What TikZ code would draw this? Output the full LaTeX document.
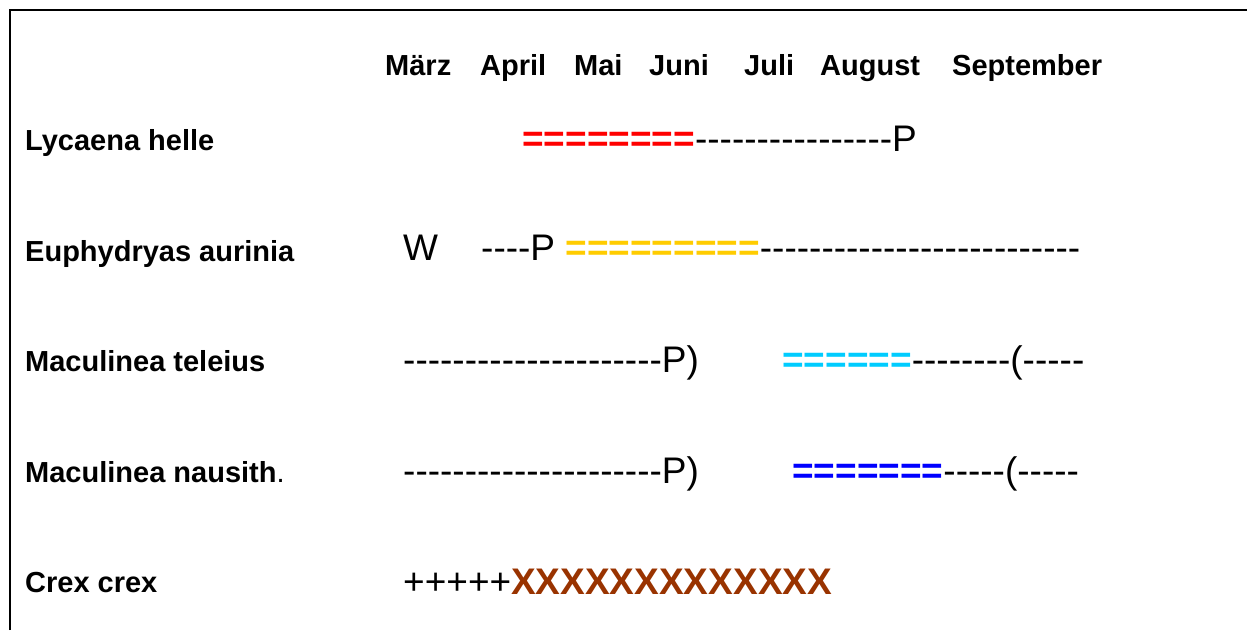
\documentclass[tikz,border=0pt]{standalone}
\usepackage{fontspec}
\newfontfamily\arialf{Liberation Sans}
\definecolor{cred}{HTML}{FF0000}
\definecolor{cyellow}{HTML}{FFCC00}
\definecolor{ccyan}{HTML}{00CCFF}
\definecolor{cblue}{HTML}{0000FF}
\definecolor{cbrown}{HTML}{993300}
\tikzset{
  lbl/.style={anchor=base west,inner sep=0pt,font=\arialf\bfseries\fontsize{29}{32}\selectfont},
  mon/.style={anchor=base west,inner sep=0pt,font=\arialf\bfseries\fontsize{29}{32}\selectfont},
  seq/.style={anchor=base west,inner sep=0pt,font=\arialf\fontsize{37}{40}\selectfont},
  frameline/.style={line width=2pt}
}
\newcommand\eqs[2]{{\bfseries\color{#1}#2}}
\begin{document}
\begin{tikzpicture}[x=1pt,y=-1pt]
\useasboundingbox (0,0) rectangle (1247,630);
\coordinate (fb) at (10,630);
\coordinate (fc) at (10,10);
\coordinate (fr) at (1247,10);
\draw[frameline] (fb) -- (fc) -- (fr);
% months
\node[mon] (m1) at (385,75) {März};
\node[mon] (m2) at (480,75) {April};
\node[mon] (m3) at (574,75) {Mai};
\node[mon] (m4) at (649,75) {Juni};
\node[mon] (m5) at (744,75) {Juli};
\node[mon] (m6) at (820,75) {August};
\node[mon] (m7) at (952,75) {September};
% labels
\node[lbl] (l1) at (25,150) {Lycaena helle};
\node[lbl] (l2) at (25,261) {Euphydryas aurinia};
\node[lbl] (l3) at (25,371) {Maculinea teleius};
\node[lbl] (l4) at (25,482) {Maculinea nausith{\mdseries .}};
\node[lbl] (l5) at (25,592) {Crex crex};
% sequences
\node[seq] (s1) at (522,151) {\eqs{cred}{========}----------------P};
\node[seq] (s2a) at (403,260) {W};
\node[seq] (s2b) at (481,260) {----P \eqs{cyellow}{=========}--------------------------};
\node[seq] (s3a) at (403,372) {---------------------P)};
\node[seq] (s3b) at (782,372) {\eqs{ccyan}{======}--------(-----};
\node[seq] (s4a) at (403,483) {---------------------P)};
\node[seq] (s4b) at (792,483) {\eqs{cblue}{=======}-----(-----};
\node[seq] (s5) at (403,594) {+++++\eqs{cbrown}{XXXXXXXXXXXXX}};
\end{tikzpicture}
\end{document}
